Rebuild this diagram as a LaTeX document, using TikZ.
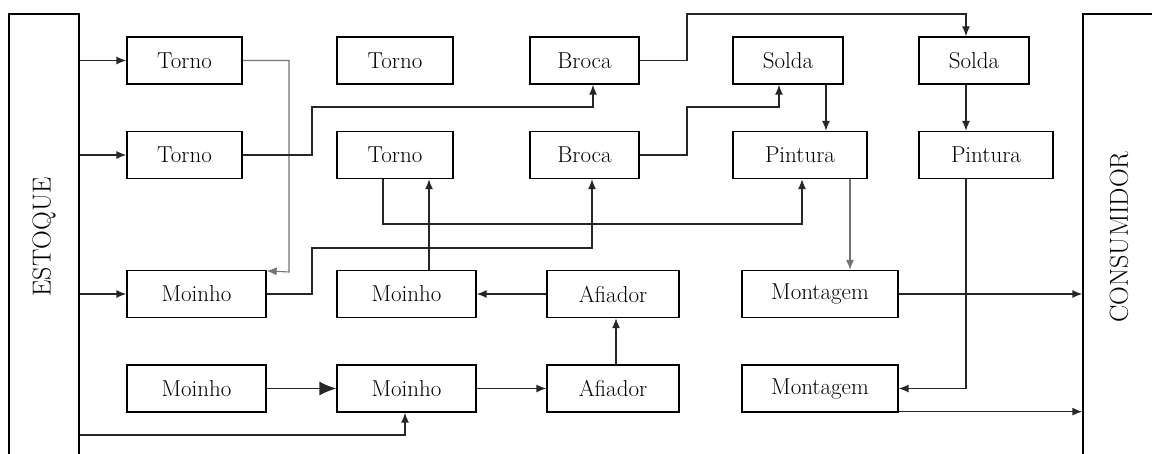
\documentclass[tikz,border=0pt]{standalone}
\usepackage{graphicx}
\usetikzlibrary{arrows.meta}
\begin{document}
\begin{tikzpicture}[x=1pt,y=-1pt,
  box/.style={draw=black,line width=1.3pt,minimum height=47pt,inner sep=0pt,
    font=\fontsize{23}{27}\selectfont},
  bigbox/.style={draw=black,line width=1.3pt,minimum width=70pt,minimum height=446pt,
    inner sep=0pt,font=\fontsize{26}{30}\selectfont},
  link/.style={line width=1.4pt,draw=black!85,-{Latex[length=10pt,width=8pt]}},
  faint/.style={link,draw=black!55,line width=1.1pt},
  bigtip/.style={link,-{Latex[length=17pt,width=14pt]}}]
\useasboundingbox (0,0) rectangle (1152,454);

% stock and consumer columns (open towards the page edges)
\node[bigbox] (estoque) at (44,237) {\rotatebox{90}{ESTOQUE}};
\node[bigbox,minimum width=72pt] (consumidor) at (1119,237) {\rotatebox{90}{CONSUMIDOR}};

% row 1
\node[box,minimum width=115pt] (t1) at (184.5,60.5) {Torno};
\node[box,minimum width=116pt] (t3) at (395,60.5) {Torno};
\node[box,minimum width=109pt] (b1) at (584.5,60.5) {Broca};
\node[box,minimum width=110pt] (s1) at (788,60.5) {Solda};
\node[box,minimum width=110pt] (s2) at (974,60.5) {Solda};
% row 2
\node[box,minimum width=115pt] (t2) at (184.5,155) {Torno};
\node[box,minimum width=116pt] (t4) at (395,155) {Torno};
\node[box,minimum width=109pt] (b2) at (584.5,155) {Broca};
\node[box,minimum width=134pt] (p1) at (800,155) {Pintura};
\node[box,minimum width=134pt] (p2) at (986,155) {Pintura};
% row 3
\node[box,minimum width=139pt] (m1) at (196.5,294) {Moinho};
\node[box,minimum width=139pt] (m2) at (406.5,294) {Moinho};
\node[box,minimum width=132pt] (a1) at (613,294) {Afiador};
\node[box,minimum width=156pt] (mt1) at (820,294) {Montagem};
% row 4
\node[box,minimum width=139pt] (m3) at (196.5,388.5) {Moinho};
\node[box,minimum width=139pt] (m4) at (406.5,388.5) {Moinho};
\node[box,minimum width=132pt] (a2) at (613,388.5) {Afiador};
\node[box,minimum width=156pt] (mt2) at (820,388.5) {Montagem};

% supplies from stock
\draw[link] (estoque.east |- t1.west) -- (t1.west);
\draw[link] (estoque.east |- t2.west) -- (t2.west);
\draw[link] (estoque.east |- m1.west) -- (m1.west);
\draw[link] (estoque.east |- 0,435) -| ([xshift=-1.5pt]m4.south);

% routings
\draw[faint] (t1.east) -| (289,272) -- ([yshift=-1pt]m1.north east);
\draw[link] (t2.east) -| (312,107) -| ([xshift=8.5pt]b1.south);
\draw[link] (b1.east) -| (687,14) -| ([xshift=-8pt]s2.north);
\draw[link] (b2.east) -| (687,107) -| ([xshift=-9pt]s1.south);
\draw[link] ([xshift=38pt]s1.south) -- ([xshift=38pt]s1.south |- p1.north);
\draw[link] ([xshift=-8pt]s2.south) -- ([xshift=-8pt]s2.south |- p2.north);
\draw[link] ([xshift=-12pt]t4.south) |- (802,224) -- ([xshift=2pt]p1.south);
\draw[link] ([xshift=22.5pt]m2.north) -- ([xshift=22.5pt]m2.north |- t4.south);
\draw[link] (m1.east) -| (312,248) -| ([xshift=7.5pt]b2.south);
\draw[link] (a1.west) -- (m2.east);
\draw[link] ([xshift=3pt]a2.north) -- ([xshift=3pt]a1.south);
\draw[bigtip] (m3.east) -- (m4.west);
\draw[link] (m4.east) -- (a2.west);
\draw[faint] ([xshift=50pt]p1.south) -- ([xshift=50pt]p1.south |- mt1.north);
\draw[link] ([xshift=-20pt]p2.south) |- (mt2.east);

% deliveries to the consumer
\coordinate (mt2out) at ([yshift=1pt]mt2.south east);
\draw[link] (mt2out) -- (consumidor.west |- mt2out);
\draw[link] (mt1.east) -- (consumidor.west |- mt1.east);
\end{tikzpicture}
\end{document}
